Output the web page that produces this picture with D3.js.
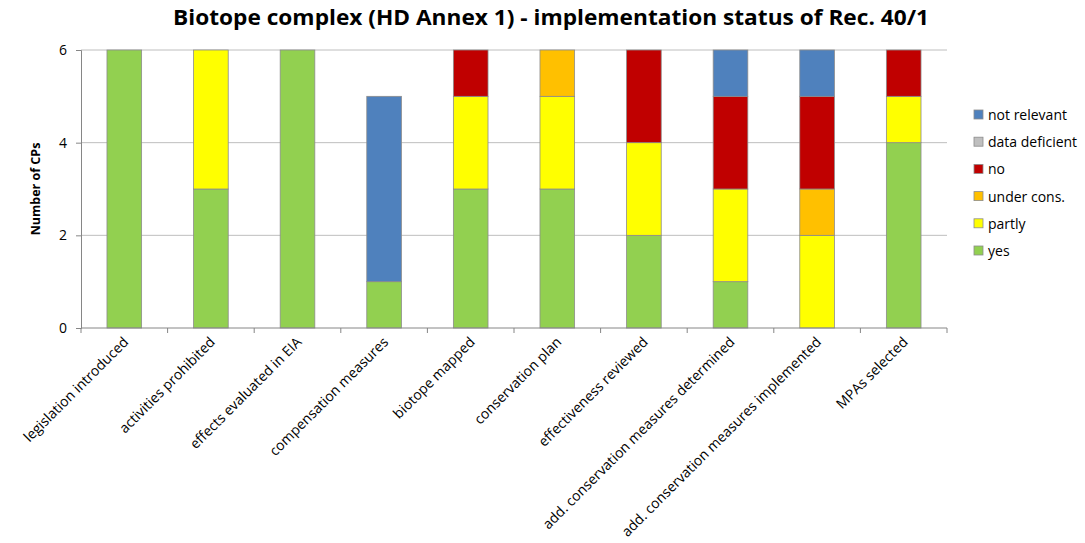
<!DOCTYPE html>
<head>
  <meta charset='utf-8'>
  <title>Biotope complex - Rec. 40/1</title>
  <style>
    body { margin: 0; background: #fff; }
    svg text { font-family: "Open Sans", "DejaVu Sans", sans-serif; fill: #000; }
  </style>
</head>
<body>
  <div id="chart"></div>
  <script src="https://cdnjs.cloudflare.com/ajax/libs/d3/7.8.5/d3.min.js"></script>
  <script>
    // categories along the x axis
    var categories = [
      "legislation introduced",
      "activities prohibited",
      "effects evaluated in EIA",
      "compensation measures",
      "biotope mapped",
      "conservation plan",
      "effectiveness reviewed",
      "add. conservation measures determined",
      "add. conservation measures implemented",
      "MPAs selected"
    ];

    // stack order, bottom to top
    var seriesNames = ["yes", "partly", "under cons.", "no", "data deficient", "not relevant"];
    var seriesColors = ["#92D050", "#FFFF00", "#FFC000", "#C00000", "#BFBFBF", "#4F81BD"];

    var yes          = [6, 3, 6, 1, 3, 3, 2, 1, 0, 4];
    var partly       = [0, 3, 0, 0, 2, 2, 2, 2, 2, 1];
    var underCons    = [0, 0, 0, 0, 0, 1, 0, 0, 1, 0];
    var no           = [0, 0, 0, 0, 1, 0, 2, 2, 2, 1];
    var dataDeficient= [0, 0, 0, 0, 0, 0, 0, 0, 0, 0];
    var notRelevant  = [0, 0, 0, 4, 0, 0, 0, 1, 1, 0];

    var yTicks = [0, 2, 4, 6];

    var seriesValues = [yes, partly, underCons, no, dataDeficient, notRelevant];

    var width = 1085, height = 543;
    var margin = {left: 81, right: 138, top: 50, bottom: 215};

    var table = categories.map(function(c, i) {
      var row = {cat: c};
      seriesNames.forEach(function(s, j) { row[s] = seriesValues[j][i]; });
      return row;
    });

    var stack = d3.stack().keys(seriesNames)(table);

    var svg = d3.select("#chart").append("svg")
        .attr("width", width)
        .attr("height", height);

    var x = d3.scaleBand()
        .domain(categories)
        .range([margin.left, width - margin.right])
        .paddingInner(0.6)
        .paddingOuter(0.3);

    var y = d3.scaleLinear()
        .domain([0, 6])
        .range([height - margin.bottom, margin.top]);

    // gridlines
    svg.append("g")
        .selectAll("line")
        .data(yTicks.filter(function(d) { return d > 0; }))
      .enter().append("line")
        .attr("x1", margin.left)
        .attr("x2", width - margin.right)
        .attr("y1", function(d) { return y(d); })
        .attr("y2", function(d) { return y(d); })
        .style("stroke", "#BEBEBE")
        .style("stroke-width", 1);

    // bars
    svg.append("g")
        .selectAll("g")
        .data(stack)
      .enter().append("g")
        .style("fill", function(d, i) { return seriesColors[i]; })
      .selectAll("rect")
        .data(function(d) { return d.filter(function(p) { return p[1] - p[0] > 0; }); })
      .enter().append("rect")
        .attr("x", function(d) { return x(d.data.cat); })
        .attr("width", x.bandwidth())
        .attr("y", function(d) { return y(d[1]); })
        .attr("height", function(d) { return y(d[0]) - y(d[1]); })
        .style("stroke", "#8C8C8C")
        .style("stroke-width", 0.8);

    // y axis
    var yAxis = svg.append("g")
        .attr("transform", "translate(" + margin.left + ",0)")
        .call(d3.axisLeft(y).tickValues(yTicks).tickSize(5).tickPadding(9).tickFormat(d3.format("d")));
    yAxis.select(".domain").style("stroke", "#868686");
    yAxis.selectAll(".tick line").style("stroke", "#868686");
    yAxis.selectAll("text").style("font-size", "14px").style("fill", "#000");

    // x axis, ticks between categories
    var bounds = d3.range(categories.length + 1).map(function(i) {
      return margin.left + i * (width - margin.left - margin.right) / categories.length;
    });
    var xg = svg.append("g");
    xg.append("line")
        .attr("x1", margin.left).attr("x2", width - margin.right)
        .attr("y1", y(0)).attr("y2", y(0))
        .style("stroke", "#868686");
    xg.selectAll(".tk")
        .data(bounds)
      .enter().append("line")
        .attr("x1", function(d) { return d; }).attr("x2", function(d) { return d; })
        .attr("y1", y(0)).attr("y2", y(0) + 5)
        .style("stroke", "#868686");

    xg.selectAll(".lbl")
        .data(categories)
      .enter().append("text")
        .attr("transform", function(d) {
          return "translate(" + (x(d) + x.bandwidth() / 2 + 5) + "," + (y(0) + 15) + ") rotate(-45)";
        })
        .style("text-anchor", "end")
        .style("font-size", "14px")
        .text(function(d) { return d; });

    // y axis title
    svg.append("text")
        .attr("transform", "translate(40," + ((y(0) + y(6)) / 2) + ") rotate(-90)")
        .style("text-anchor", "middle")
        .style("font-size", "12.5px")
        .style("font-weight", "bold")
        .text("Number of CPs");

    // chart title
    svg.append("text")
        .attr("x", 551)
        .attr("y", 25)
        .attr("textLength", 756)
        .attr("lengthAdjust", "spacingAndGlyphs")
        .style("text-anchor", "middle")
        .style("font-size", "21px")
        .style("font-weight", "bold")
        .text("Biotope complex (HD Annex 1) - implementation status of Rec. 40/1");

    // legend, top item = last series
    var legend = svg.append("g")
        .selectAll("g")
        .data(seriesNames.slice().reverse())
      .enter().append("g")
        .attr("transform", function(d, i) { return "translate(974," + (110 + i * 27.2) + ")"; });

    legend.append("rect")
        .attr("width", 9).attr("height", 9)
        .style("fill", function(d) { return seriesColors[seriesNames.indexOf(d)]; })
        .style("stroke", "#8C8C8C")
        .style("stroke-width", 0.8);

    legend.append("text")
        .attr("x", 14)
        .attr("y", 10)
        .style("font-size", "14px")
        .text(function(d) { return d; });
  </script>
</body>
